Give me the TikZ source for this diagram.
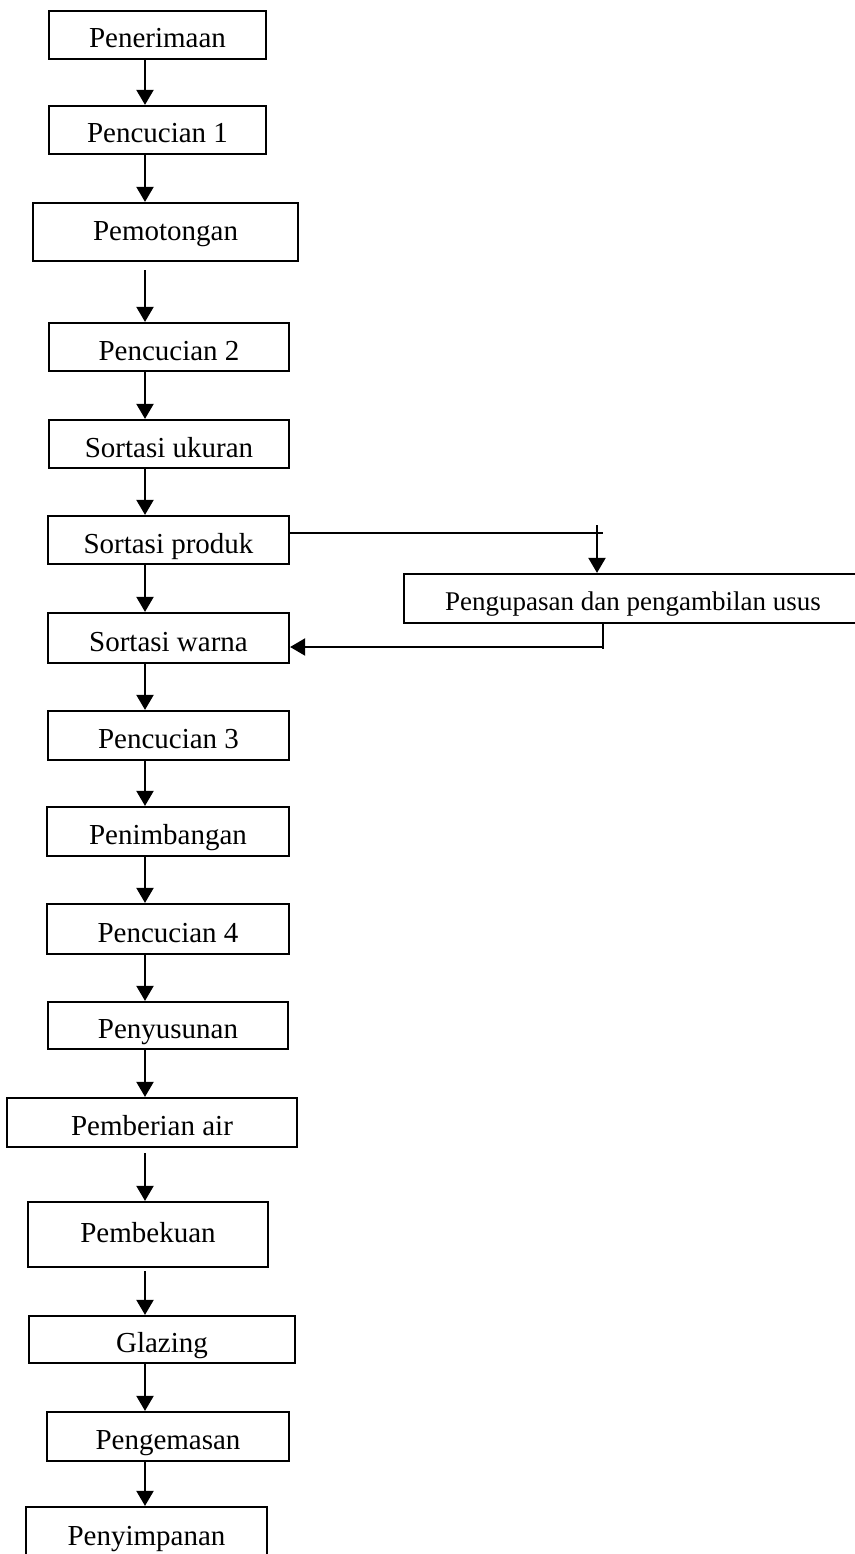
\documentclass[tikz,border=0pt]{standalone}
\usepackage{fontspec}
\setmainfont{Liberation Serif}
\usetikzlibrary{arrows.meta}
\tikzset{
  box/.style={draw, line width=2.2pt, inner sep=0pt, text height=26pt, text depth=0pt,
    font=\fontsize{29}{32}\selectfont},
  tallbox/.style={box, text height=16.5pt},
  ln/.style={line width=2pt},
  arr/.style={ln, -{Triangle[width=17pt,length=15pt]}},
}
\newcommand{\bx}[7]{% style, name, x1, x2, y1, y2, text
  \pgfmathsetmacro{\cx}{(#3+#4)/2}\pgfmathsetmacro{\cy}{(#5+#6)/2}%
  \pgfmathsetmacro{\bw}{#4-#3}\pgfmathsetmacro{\bh}{#6-#5}%
  \node[#1, minimum width=\bw pt, minimum height=\bh pt] (#2) at (\cx,\cy) {#7};}
\begin{document}
\begin{tikzpicture}[x=1pt,y=-1pt]
\useasboundingbox (0,0) rectangle (854,1554);
\bx{box}{n1}{49}{266}{11}{59}{Penerimaan}
\bx{box}{n2}{49}{266}{106}{154}{Pencucian 1}
\bx{tallbox}{n3}{33}{298}{203}{261}{Pemotongan}
\bx{box}{n4}{49}{289}{323}{371}{Pencucian 2}
\bx{box}{n5}{49}{289}{420}{468}{Sortasi ukuran}
\bx{box}{n6}{48}{289}{516}{564}{Sortasi produk}
\bx{box}{n7}{48}{289}{613}{663}{Sortasi warna}
\bx{box}{n8}{48}{289}{711}{760}{Pencucian 3}
\bx{box}{n9}{47}{289}{807}{856}{Penimbangan}
\bx{box}{n10}{47}{289}{904}{954}{Pencucian 4}
\bx{box}{n11}{48}{288}{1002}{1049}{Penyusunan}
\bx{box}{n12}{7}{297}{1098}{1147}{Pemberian air}
\bx{tallbox}{n13}{28}{268}{1202}{1267}{Pembekuan}
\bx{box}{n14}{29}{295}{1316}{1363}{Glazing}
\bx{box}{n15}{47}{289}{1412}{1461}{Pengemasan}
\bx{box, text height=12pt}{n16}{26}{267}{1507}{1571}{Penyimpanan}
\bx{box, font=\fontsize{27}{30}\selectfont, text height=23pt}{side}{404}{862}{574}{623}{Pengupasan dan pengambilan usus}
\coordinate (ax) at (145,0);
\draw[arr] (n1.south -| ax) -- (n2.north -| ax);
\draw[arr] (n2.south -| ax) -- (n3.north -| ax);
\draw[arr, shorten <=8pt] (n3.south -| ax) -- (n4.north -| ax);
\draw[arr] (n4.south -| ax) -- (n5.north -| ax);
\draw[arr] (n5.south -| ax) -- (n6.north -| ax);
\draw[arr] (n6.south -| ax) -- (n7.north -| ax);
\draw[arr] (n7.south -| ax) -- (n8.north -| ax);
\draw[arr] (n8.south -| ax) -- (n9.north -| ax);
\draw[arr] (n9.south -| ax) -- (n10.north -| ax);
\draw[arr] (n10.south -| ax) -- (n11.north -| ax);
\draw[arr] (n11.south -| ax) -- (n12.north -| ax);
\draw[arr, shorten <=5pt] (n12.south -| ax) -- (n13.north -| ax);
\draw[arr, shorten <=3pt] (n13.south -| ax) -- (n14.north -| ax);
\draw[arr] (n14.south -| ax) -- (n15.north -| ax);
\draw[arr] (n15.south -| ax) -- (n16.north -| ax);
% side branch
\coordinate (j1) at (603,533);
\coordinate (j2) at (597,525);
\coordinate (j3) at (603,649);
\coordinate (j4) at (603,647);
\draw[ln] (n6.east |- j1) -- (j1);
\draw[arr] (j2) -- (side.north -| j2);
\draw[ln] (side.south -| j3) -- (j3);
\draw[arr] (j4) -- (n7.east |- j4);
\end{tikzpicture}
\end{document}
